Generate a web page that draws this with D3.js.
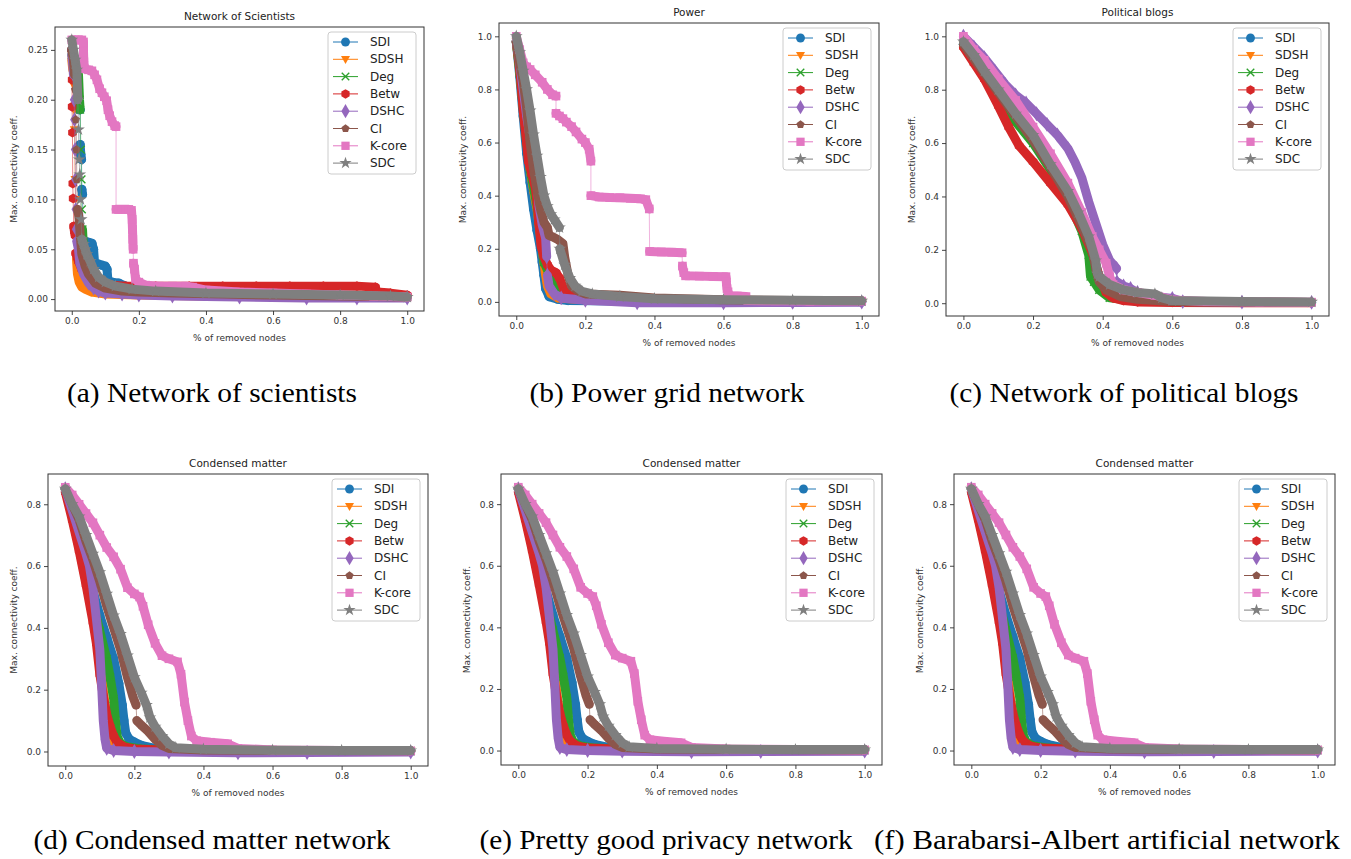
<!DOCTYPE html>
<html>
<head>
<meta charset="utf-8">
<script src="https://cdn.jsdelivr.net/npm/d3@7"></script>
<style>
  body { margin: 0; background: #fff; }
  text { font-family: "DejaVu Sans", sans-serif; }
</style>
</head>
<body>
<div id="fig"></div>
<script>
// Données : [% de noeuds retirés, coeff. de connectivité max]
const methods = ['SDI', 'SDSH', 'Deg', 'Betw', 'DSHC', 'CI', 'K-core', 'SDC'];
const methodColors = ['#1f77b4', '#ff7f0e', '#2ca02c', '#d62728', '#9467bd', '#8c564b', '#e377c2', '#7f7f7f'];
const methodMarkers = ['o', 'v', 'x', 'h', 'D', 'p', 's', '*'];

const panelTitles = ['Network of Scientists', 'Power', 'Political blogs', 'Condensed matter', 'Condensed matter', 'Condensed matter'];
const panelCaptions = ['(a) Network of scientists', '(b) Power grid network', '(c) Network of political blogs',
  '(d) Condensed matter network', '(e) Pretty good privacy network', '(f) Barabarsi-Albert artificial network'];

const xTicks = [0, 0.2, 0.4, 0.6, 0.8, 1.0];
const scientistsYTicks = [0, 0.05, 0.10, 0.15, 0.20, 0.25];
const unitYTicks = [0, 0.2, 0.4, 0.6, 0.8, 1.0];
const condensedYTicks = [0, 0.2, 0.4, 0.6, 0.8];

// (a) Network of scientists
const scientistsCurves = [
  [[0,0.25],[0.005,0.245],[0.01,0.24],[0.015,0.232],[0.02,0.21],[0.022,0.19],[0.025,0.19],[0.025,0.155],[0.027,0.145],[0.029,0.14],[0.03,0.11],[0.032,0.105],[0.034,0.06],[0.04,0.058],[0.05,0.057],[0.06,0.056],[0.065,0.05],[0.068,0.036],[0.08,0.035],[0.09,0.034],[0.1,0.033],[0.105,0.03],[0.108,0.018],[0.12,0.017],[0.14,0.016],[0.16,0.013],[0.2,0.01],[0.3,0.007],[0.5,0.005],[0.7,0.004],[0.9,0.003],[1.0,0.002]],
  [[0,0.24],[0.003,0.23],[0.005,0.215],[0.007,0.19],[0.008,0.17],[0.01,0.12],[0.011,0.1],[0.012,0.06],[0.014,0.04],[0.017,0.025],[0.022,0.017],[0.03,0.012],[0.04,0.01],[0.06,0.007],[0.08,0.006],[0.1,0.005],[0.2,0.004],[0.4,0.003],[0.6,0.003],[0.8,0.002],[1.0,0.002]],
  [[0,0.245],[0.005,0.242],[0.01,0.238],[0.015,0.232],[0.02,0.225],[0.023,0.2],[0.025,0.19],[0.027,0.15],[0.029,0.12],[0.03,0.09],[0.032,0.07],[0.035,0.05],[0.04,0.038],[0.05,0.03],[0.06,0.025],[0.08,0.02],[0.1,0.015],[0.13,0.012],[0.16,0.01],[0.2,0.008],[0.4,0.005],[0.6,0.004],[0.8,0.003],[1.0,0.002]],
  [[0,0.25],[0.001,0.22],[0.001,0.193],[0.002,0.167],[0.003,0.116],[0.004,0.101],[0.006,0.073],[0.008,0.068],[0.01,0.064],[0.012,0.046],[0.016,0.042],[0.02,0.038],[0.03,0.03],[0.04,0.026],[0.05,0.022],[0.07,0.018],[0.09,0.016],[0.12,0.014],[0.16,0.013],[0.25,0.013],[0.35,0.013],[0.45,0.013],[0.55,0.013],[0.65,0.013],[0.75,0.013],[0.85,0.013],[0.905,0.012],[0.91,0.007],[0.95,0.006],[1.0,0.004]],
  [[0,0.245],[0.003,0.235],[0.005,0.225],[0.007,0.2],[0.008,0.18],[0.01,0.15],[0.011,0.12],[0.012,0.09],[0.013,0.07],[0.015,0.058],[0.02,0.05],[0.024,0.036],[0.03,0.03],[0.035,0.025],[0.05,0.016],[0.065,0.011],[0.08,0.008],[0.1,0.006],[0.15,0.005],[0.2,0.004],[0.3,0.003],[0.5,0.002],[0.7,0.001],[0.85,0.001],[1.0,0.001]],
  [[0,0.25],[0.005,0.24],[0.008,0.225],[0.01,0.21],[0.012,0.18],[0.014,0.15],[0.015,0.12],[0.017,0.09],[0.02,0.085],[0.022,0.08],[0.025,0.065],[0.03,0.045],[0.04,0.033],[0.05,0.025],[0.07,0.016],[0.1,0.011],[0.15,0.008],[0.2,0.007],[0.3,0.006],[0.45,0.005],[0.6,0.004],[0.8,0.003],[1.0,0.002]],
  [[0,0.26],[0.01,0.26],[0.02,0.26],[0.03,0.26],[0.035,0.258],[0.035,0.248],[0.036,0.238],[0.038,0.231],[0.05,0.23],[0.06,0.229],[0.068,0.225],[0.075,0.22],[0.083,0.211],[0.09,0.207],[0.097,0.203],[0.104,0.199],[0.108,0.19],[0.113,0.184],[0.12,0.178],[0.128,0.174],[0.132,0.173],[0.132,0.09],[0.14,0.09],[0.15,0.09],[0.16,0.09],[0.17,0.09],[0.178,0.089],[0.18,0.08],[0.181,0.07],[0.182,0.06],[0.183,0.05],[0.184,0.036],[0.187,0.03],[0.19,0.02],[0.2,0.017],[0.22,0.014],[0.26,0.013],[0.3,0.013],[0.34,0.013],[0.36,0.012],[0.4,0.009],[0.5,0.007],[0.6,0.006],[0.7,0.005],[0.8,0.004],[0.9,0.003],[1.0,0.002]],
  [[0,0.26],[0.005,0.25],[0.01,0.24],[0.015,0.23],[0.018,0.2],[0.02,0.17],[0.022,0.14],[0.024,0.125],[0.026,0.1],[0.028,0.08],[0.03,0.06],[0.035,0.055],[0.04,0.05],[0.045,0.045],[0.055,0.038],[0.065,0.03],[0.08,0.022],[0.1,0.017],[0.13,0.013],[0.18,0.01],[0.25,0.008],[0.4,0.006],[0.6,0.005],[0.8,0.004],[0.95,0.003],[1.0,0.002]]
];

// (b) Power grid
const powerCurves = [
  [[0,0.98],[0.01,0.85],[0.02,0.7],[0.03,0.56],[0.04,0.45],[0.05,0.35],[0.06,0.27],[0.07,0.2],[0.075,0.15],[0.08,0.1],[0.085,0.05],[0.095,0.02],[0.12,0.01],[0.15,0.005],[0.3,0.003],[0.5,0.002],[0.7,0.001],[1.0,0.001]],
  [[0,0.98],[0.01,0.87],[0.02,0.74],[0.03,0.62],[0.04,0.5],[0.05,0.42],[0.06,0.35],[0.065,0.3],[0.075,0.2],[0.085,0.1],[0.09,0.06],[0.1,0.03],[0.12,0.015],[0.2,0.008],[0.4,0.004],[0.7,0.003],[1.0,0.002]],
  [[0,0.98],[0.01,0.87],[0.02,0.73],[0.03,0.6],[0.04,0.5],[0.05,0.43],[0.06,0.36],[0.07,0.25],[0.08,0.15],[0.09,0.12],[0.1,0.11],[0.105,0.08],[0.12,0.05],[0.14,0.03],[0.2,0.015],[0.4,0.006],[0.7,0.003],[1.0,0.002]],
  [[0,0.98],[0.01,0.88],[0.02,0.72],[0.03,0.6],[0.035,0.53],[0.045,0.48],[0.055,0.43],[0.06,0.38],[0.065,0.3],[0.072,0.21],[0.08,0.17],[0.09,0.14],[0.1,0.12],[0.115,0.11],[0.125,0.09],[0.14,0.04],[0.16,0.02],[0.2,0.012],[0.3,0.008],[0.5,0.005],[0.75,0.003],[1.0,0.002]],
  [[0,0.98],[0.01,0.9],[0.02,0.8],[0.03,0.7],[0.04,0.62],[0.05,0.56],[0.06,0.45],[0.066,0.36],[0.075,0.29],[0.085,0.24],[0.088,0.17],[0.09,0.1],[0.095,0.06],[0.11,0.03],[0.13,0.015],[0.2,0.006],[0.35,-0.003],[0.6,-0.003],[0.8,-0.002],[1.0,-0.001]],
  [[0,0.98],[0.01,0.9],[0.02,0.83],[0.03,0.73],[0.04,0.6],[0.05,0.5],[0.06,0.42],[0.07,0.35],[0.08,0.3],[0.09,0.28],[0.095,0.25],[0.105,0.245],[0.12,0.235],[0.135,0.22],[0.14,0.17],[0.15,0.1],[0.16,0.06],[0.18,0.04],[0.2,0.03],[0.3,0.025],[0.4,0.015],[0.6,0.008],[0.8,0.005],[1.0,0.004]],
  [[0,1.0],[0.01,0.95],[0.02,0.9],[0.03,0.885],[0.04,0.875],[0.055,0.855],[0.075,0.827],[0.09,0.8],[0.105,0.78],[0.115,0.775],[0.115,0.71],[0.125,0.7],[0.135,0.69],[0.145,0.677],[0.16,0.66],[0.173,0.64],[0.19,0.613],[0.2,0.6],[0.211,0.575],[0.216,0.53],[0.216,0.4],[0.24,0.395],[0.27,0.393],[0.3,0.392],[0.33,0.39],[0.36,0.388],[0.375,0.385],[0.385,0.35],[0.386,0.19],[0.42,0.188],[0.45,0.187],[0.48,0.185],[0.481,0.135],[0.485,0.11],[0.49,0.098],[0.53,0.097],[0.57,0.096],[0.607,0.095],[0.608,0.075],[0.61,0.05],[0.613,0.038],[0.615,0.023],[0.64,0.022],[0.665,0.02],[0.67,0.005],[0.75,0.004],[0.85,0.003],[1.0,0.003]],
  [[0,1.0],[0.01,0.94],[0.02,0.87],[0.03,0.8],[0.04,0.72],[0.05,0.63],[0.06,0.55],[0.07,0.47],[0.08,0.4],[0.09,0.36],[0.1,0.33],[0.11,0.31],[0.125,0.28],[0.126,0.2],[0.14,0.14],[0.155,0.09],[0.17,0.06],[0.19,0.04],[0.22,0.03],[0.3,0.02],[0.4,0.012],[0.6,0.008],[0.8,0.006],[1.0,0.004]]
];

// (c) Political blogs
const blogsCurves = [
  [[0,0.97],[0.05,0.88],[0.1,0.79],[0.15,0.7],[0.2,0.62],[0.25,0.52],[0.3,0.41],[0.34,0.3],[0.37,0.2],[0.385,0.12],[0.4,0.07],[0.43,0.04],[0.47,0.02],[0.52,0.01],[0.6,0.006],[0.8,0.004],[1.0,0.003]],
  [[0,0.97],[0.05,0.87],[0.1,0.78],[0.15,0.69],[0.2,0.61],[0.25,0.51],[0.3,0.4],[0.34,0.29],[0.37,0.19],[0.385,0.11],[0.4,0.06],[0.43,0.03],[0.47,0.015],[0.55,0.008],[0.7,0.005],[1.0,0.003]],
  [[0,0.97],[0.05,0.87],[0.1,0.77],[0.15,0.68],[0.2,0.6],[0.25,0.5],[0.3,0.39],[0.34,0.27],[0.36,0.18],[0.365,0.1],[0.375,0.08],[0.39,0.05],[0.42,0.02],[0.5,0.008],[0.7,0.004],[1.0,0.003]],
  [[0,0.96],[0.03,0.9],[0.06,0.84],[0.1,0.74],[0.13,0.66],[0.16,0.59],[0.2,0.53],[0.25,0.45],[0.3,0.37],[0.34,0.28],[0.37,0.19],[0.39,0.1],[0.41,0.04],[0.43,0.02],[0.46,0.01],[0.5,0.005],[0.6,0.003],[0.8,0.002],[1.0,0.002]],
  [[0,1.0],[0.03,0.96],[0.06,0.92],[0.09,0.87],[0.12,0.82],[0.15,0.78],[0.18,0.75],[0.21,0.71],[0.24,0.67],[0.27,0.63],[0.3,0.58],[0.32,0.53],[0.34,0.47],[0.36,0.38],[0.38,0.3],[0.4,0.22],[0.42,0.16],[0.44,0.13],[0.441,0.08],[0.46,0.065],[0.48,0.055],[0.5,0.04],[0.55,0.025],[0.6,0.018],[0.63,0.006],[0.8,0.004],[1.0,0.003]],
  [[0,0.97],[0.05,0.88],[0.1,0.79],[0.15,0.7],[0.2,0.61],[0.25,0.51],[0.3,0.4],[0.34,0.29],[0.37,0.2],[0.38,0.13],[0.39,0.08],[0.41,0.05],[0.45,0.025],[0.5,0.015],[0.6,0.006],[0.8,0.004],[1.0,0.003]],
  [[0,1.0],[0.03,0.95],[0.06,0.91],[0.1,0.84],[0.15,0.76],[0.2,0.66],[0.25,0.56],[0.3,0.45],[0.34,0.34],[0.37,0.25],[0.39,0.2],[0.41,0.15],[0.42,0.1],[0.43,0.07],[0.46,0.05],[0.5,0.04],[0.55,0.03],[0.6,0.012],[0.7,0.006],[0.85,0.005],[1.0,0.004]],
  [[0,0.98],[0.03,0.93],[0.06,0.87],[0.1,0.8],[0.15,0.71],[0.2,0.63],[0.25,0.52],[0.3,0.42],[0.33,0.34],[0.36,0.25],[0.38,0.16],[0.385,0.11],[0.39,0.1],[0.42,0.07],[0.46,0.05],[0.5,0.04],[0.55,0.035],[0.57,0.02],[0.6,0.01],[0.8,0.006],[1.0,0.005]]
];

// (d) Condensed matter — (e) et (f) montrent les mêmes courbes
const condensedCurves = [
  [[0,0.85],[0.02,0.77],[0.04,0.69],[0.06,0.6],[0.08,0.52],[0.1,0.44],[0.12,0.37],[0.14,0.3],[0.155,0.22],[0.165,0.15],[0.17,0.1],[0.175,0.06],[0.185,0.04],[0.2,0.03],[0.22,0.02],[0.26,0.01],[0.3,0.005],[0.5,0.003],[0.75,0.002],[1.0,0.002]],
  [[0,0.85],[0.02,0.76],[0.04,0.66],[0.06,0.55],[0.08,0.44],[0.1,0.3],[0.11,0.2],[0.12,0.11],[0.125,0.07],[0.13,0.04],[0.14,0.02],[0.16,0.01],[0.2,0.006],[0.3,0.003],[0.6,0.002],[1.0,0.002]],
  [[0,0.85],[0.02,0.76],[0.04,0.67],[0.06,0.57],[0.08,0.48],[0.1,0.39],[0.12,0.3],[0.13,0.24],[0.14,0.17],[0.145,0.1],[0.15,0.05],[0.16,0.025],[0.18,0.015],[0.22,0.008],[0.3,0.004],[0.6,0.003],[1.0,0.002]],
  [[0,0.84],[0.02,0.75],[0.04,0.65],[0.06,0.54],[0.08,0.42],[0.09,0.35],[0.1,0.25],[0.11,0.18],[0.12,0.12],[0.13,0.08],[0.14,0.05],[0.15,0.03],[0.17,0.015],[0.2,0.008],[0.3,0.004],[0.6,0.003],[1.0,0.002]],
  [[0,0.85],[0.02,0.78],[0.04,0.71],[0.06,0.64],[0.07,0.6],[0.08,0.53],[0.09,0.43],[0.1,0.33],[0.105,0.22],[0.11,0.1],[0.115,0.04],[0.12,0.01],[0.14,0.003],[0.2,0.0],[0.3,-0.002],[0.5,-0.004],[0.7,-0.003],[1.0,-0.002]],
  [[0,0.85],[0.02,0.8],[0.04,0.75],[0.06,0.68],[0.08,0.62],[0.1,0.55],[0.12,0.47],[0.14,0.4],[0.16,0.33],[0.18,0.24],[0.195,0.18],[0.205,0.15],[0.207,0.1],[0.22,0.085],[0.24,0.065],[0.26,0.04],[0.28,0.02],[0.3,0.01],[0.4,0.005],[0.7,0.003],[1.0,0.002]],
  [[0,0.855],[0.02,0.83],[0.04,0.8],[0.06,0.77],[0.08,0.74],[0.1,0.7],[0.12,0.66],[0.14,0.63],[0.16,0.59],[0.18,0.53],[0.2,0.51],[0.215,0.5],[0.225,0.47],[0.24,0.41],[0.26,0.35],[0.28,0.31],[0.3,0.3],[0.325,0.29],[0.335,0.25],[0.345,0.16],[0.355,0.1],[0.365,0.05],[0.38,0.035],[0.42,0.03],[0.47,0.025],[0.5,0.01],[0.6,0.005],[0.8,0.003],[1.0,0.002]],
  [[0,0.85],[0.02,0.8],[0.04,0.76],[0.06,0.7],[0.08,0.64],[0.1,0.58],[0.12,0.51],[0.14,0.44],[0.16,0.38],[0.18,0.31],[0.2,0.24],[0.22,0.19],[0.235,0.15],[0.245,0.11],[0.26,0.08],[0.28,0.05],[0.3,0.025],[0.32,0.012],[0.4,0.007],[0.6,0.004],[0.8,0.003],[1.0,0.003]]
];
const privacyCurves = condensedCurves;
const barabasiCurves = condensedCurves;

// Mise en page des six sous-figures (cadre des axes : x, y, largeur, hauteur)
const panels = [
  { curves: scientistsCurves, yTicks: scientistsYTicks, yFmt: '.2f', frame: [55, 27, 369, 284], yLabelX: 14, capX: 212, capY: 402, capW: 290 },
  { curves: powerCurves, yTicks: unitYTicks, yFmt: '.1f', frame: [499, 23, 380, 293], yLabelX: 463, capX: 667, capY: 402, capW: 275 },
  { curves: blogsCurves, yTicks: unitYTicks, yFmt: '.1f', frame: [946, 23, 383, 293], yLabelX: 912, capX: 1124, capY: 402, capW: 349 },
  { curves: condensedCurves, yTicks: condensedYTicks, yFmt: '.1f', frame: [48, 474, 380, 292], yLabelX: 14, capX: 212, capY: 849, capW: 357 },
  { curves: privacyCurves, yTicks: condensedYTicks, yFmt: '.1f', frame: [501, 474, 381, 291], yLabelX: 467, capX: 666, capY: 849, capW: 373 },
  { curves: barabasiCurves, yTicks: condensedYTicks, yFmt: '.1f', frame: [954, 474, 381, 291], yLabelX: 920, capX: 1107, capY: 849, capW: 466 }
];

const svg = d3.select('#fig').append('svg')
  .attr('width', 1351)
  .attr('height', 859)
  .style('background', '#fff');

function polygon(n, r, rot) {
  const pts = d3.range(n).map(i => {
    const a = rot + i * 2 * Math.PI / n;
    return [r * Math.sin(a), -r * Math.cos(a)];
  });
  return 'M' + pts.map(p => p[0].toFixed(2) + ',' + p[1].toFixed(2)).join('L') + 'Z';
}

function markerPath(kind, s) {
  switch (kind) {
    case 'o': return d3.symbol(d3.symbolCircle, 40 * s * s)();
    case 'v': return `M${-3.6 * s},${-2.6 * s}L${3.6 * s},${-2.6 * s}L0,${3.8 * s}Z`;
    case 'x': return `M${-3 * s},${-3 * s}L${3 * s},${3 * s}M${-3 * s},${3 * s}L${3 * s},${-3 * s}`;
    case 'h': return polygon(6, 3.8 * s, 0);
    case 'D': return d3.symbol(d3.symbolDiamond, 38 * s * s)();
    case 'p': return polygon(5, 3.4 * s, 0);
    case 's': return d3.symbol(d3.symbolSquare, 44 * s * s)();
    case '*': return d3.symbol(d3.symbolStar, 30 * s * s)();
  }
}

function drawMarker(g, kind, color, x, y, s) {
  const m = g.append('path')
    .attr('d', markerPath(kind, s))
    .attr('transform', `translate(${x},${y})`);
  if (kind === 'x') m.attr('fill', 'none').attr('stroke', color).attr('stroke-width', 1.4);
  else m.attr('fill', color);
}

function drawPanel(p, idx) {
  const [fx, fy, fw, fh] = p.frame;
  const allY = p.curves.flat().map(d => d[1]);
  const yMin = d3.min(allY), yMax = d3.max(allY);
  const yPad = (yMax - yMin) * 0.05;

  const x = d3.scaleLinear().domain([-0.05, 1.05]).range([fx, fx + fw]);
  const y = d3.scaleLinear().domain([yMin - yPad, yMax + yPad]).range([fy + fh, fy]);

  const g = svg.append('g');
  const clipId = 'clip' + idx;
  g.append('clipPath').attr('id', clipId)
    .append('rect').attr('x', fx).attr('y', fy).attr('width', fw).attr('height', fh);

  // Axes
  const xAxis = g.append('g')
    .attr('transform', `translate(0,${fy + fh})`)
    .call(d3.axisBottom(x).tickValues(xTicks).tickFormat(d3.format('.1f')).tickSize(4).tickPadding(3));
  const yAxis = g.append('g')
    .attr('transform', `translate(${fx},0)`)
    .call(d3.axisLeft(y).tickValues(p.yTicks).tickFormat(d3.format(p.yFmt)).tickSize(4).tickPadding(3));
  [xAxis, yAxis].forEach(a => {
    a.select('.domain').remove();
    a.selectAll('line').attr('stroke', '#444');
    a.selectAll('text').attr('fill', '#333').style('font-size', '9px').style('font-family', 'DejaVu Sans');
  });

  // Courbes : trait fin + bande épaisse là où les marqueurs se touchent
  const plot = g.append('g').attr('clip-path', `url(#${clipId})`);
  const line = d3.line();
  p.curves.forEach((curve, i) => {
    const color = methodColors[i];
    const pts = curve.map(d => [x(d[0]), y(d[1])]);
    const runs = [[pts[0]]];
    for (let k = 1; k < pts.length; k++) {
      const dx = Math.abs(pts[k][0] - pts[k - 1][0]);
      const dy = Math.abs(pts[k][1] - pts[k - 1][1]);
      if (dx < 1 && dy > 10) runs.push([pts[k]]);
      else runs[runs.length - 1].push(pts[k]);
    }
    const sg = plot.append('g');
    sg.append('path').attr('d', line(pts))
      .attr('fill', 'none').attr('stroke', color).attr('stroke-width', 1).attr('stroke-opacity', 0.55);
    runs.filter(r => r.length > 1).forEach(r => {
      sg.append('path').attr('d', line(r))
        .attr('fill', 'none').attr('stroke', color)
        .attr('stroke-width', 9).attr('stroke-linecap', 'round').attr('stroke-linejoin', 'round');
    });
    pts.forEach(pt => drawMarker(sg, methodMarkers[i], color, pt[0], pt[1], 1.3));
  });

  // Cadre
  g.append('rect').attr('x', fx).attr('y', fy).attr('width', fw).attr('height', fh)
    .attr('fill', 'none').attr('stroke', '#333').attr('stroke-width', 1);

  // Titre et libellés
  g.append('text').attr('x', fx + fw / 2).attr('y', fy - 7)
    .attr('text-anchor', 'middle').style('font-size', '10.5px').attr('fill', '#222')
    .text(panelTitles[idx]);
  g.append('text').attr('x', fx + fw / 2).attr('y', fy + fh + 30)
    .attr('text-anchor', 'middle').style('font-size', '9px').attr('fill', '#333')
    .text('% of removed nodes');
  g.append('text')
    .attr('transform', `translate(${p.yLabelX},${fy + fh / 2}) rotate(-90)`)
    .attr('text-anchor', 'middle').attr('dominant-baseline', 'central')
    .style('font-size', '9px').attr('fill', '#333')
    .text('Max. connectivity coeff.');

  // Légende
  const lw = 88, lh = 142;
  const lx = fx + fw - 8 - lw, ly = fy + 5;
  const leg = g.append('g');
  leg.append('rect').attr('x', lx).attr('y', ly).attr('width', lw).attr('height', lh).attr('rx', 3)
    .attr('fill', '#fff').attr('fill-opacity', 0.85).attr('stroke', '#ccc');
  methods.forEach((m, i) => {
    const cy = ly + 10 + i * 17.3;
    leg.append('line').attr('x1', lx + 5).attr('x2', lx + 30).attr('y1', cy).attr('y2', cy)
      .attr('stroke', methodColors[i]).attr('stroke-width', 1);
    drawMarker(leg, methodMarkers[i], methodColors[i], lx + 17.5, cy, 1.25);
    leg.append('text').attr('x', lx + 42).attr('y', cy).attr('dominant-baseline', 'central')
      .style('font-size', '12px').attr('fill', '#222').text(m);
  });

  // Légende de la sous-figure
  svg.append('text').attr('x', p.capX).attr('y', p.capY)
    .attr('text-anchor', 'middle')
    .attr('textLength', p.capW).attr('lengthAdjust', 'spacingAndGlyphs')
    .style('font-family', '"Liberation Serif", "Times New Roman", serif')
    .style('font-size', '28px').attr('fill', '#000')
    .text(panelCaptions[idx]);
}

panels.forEach(drawPanel);
</script>
</body>
</html>
